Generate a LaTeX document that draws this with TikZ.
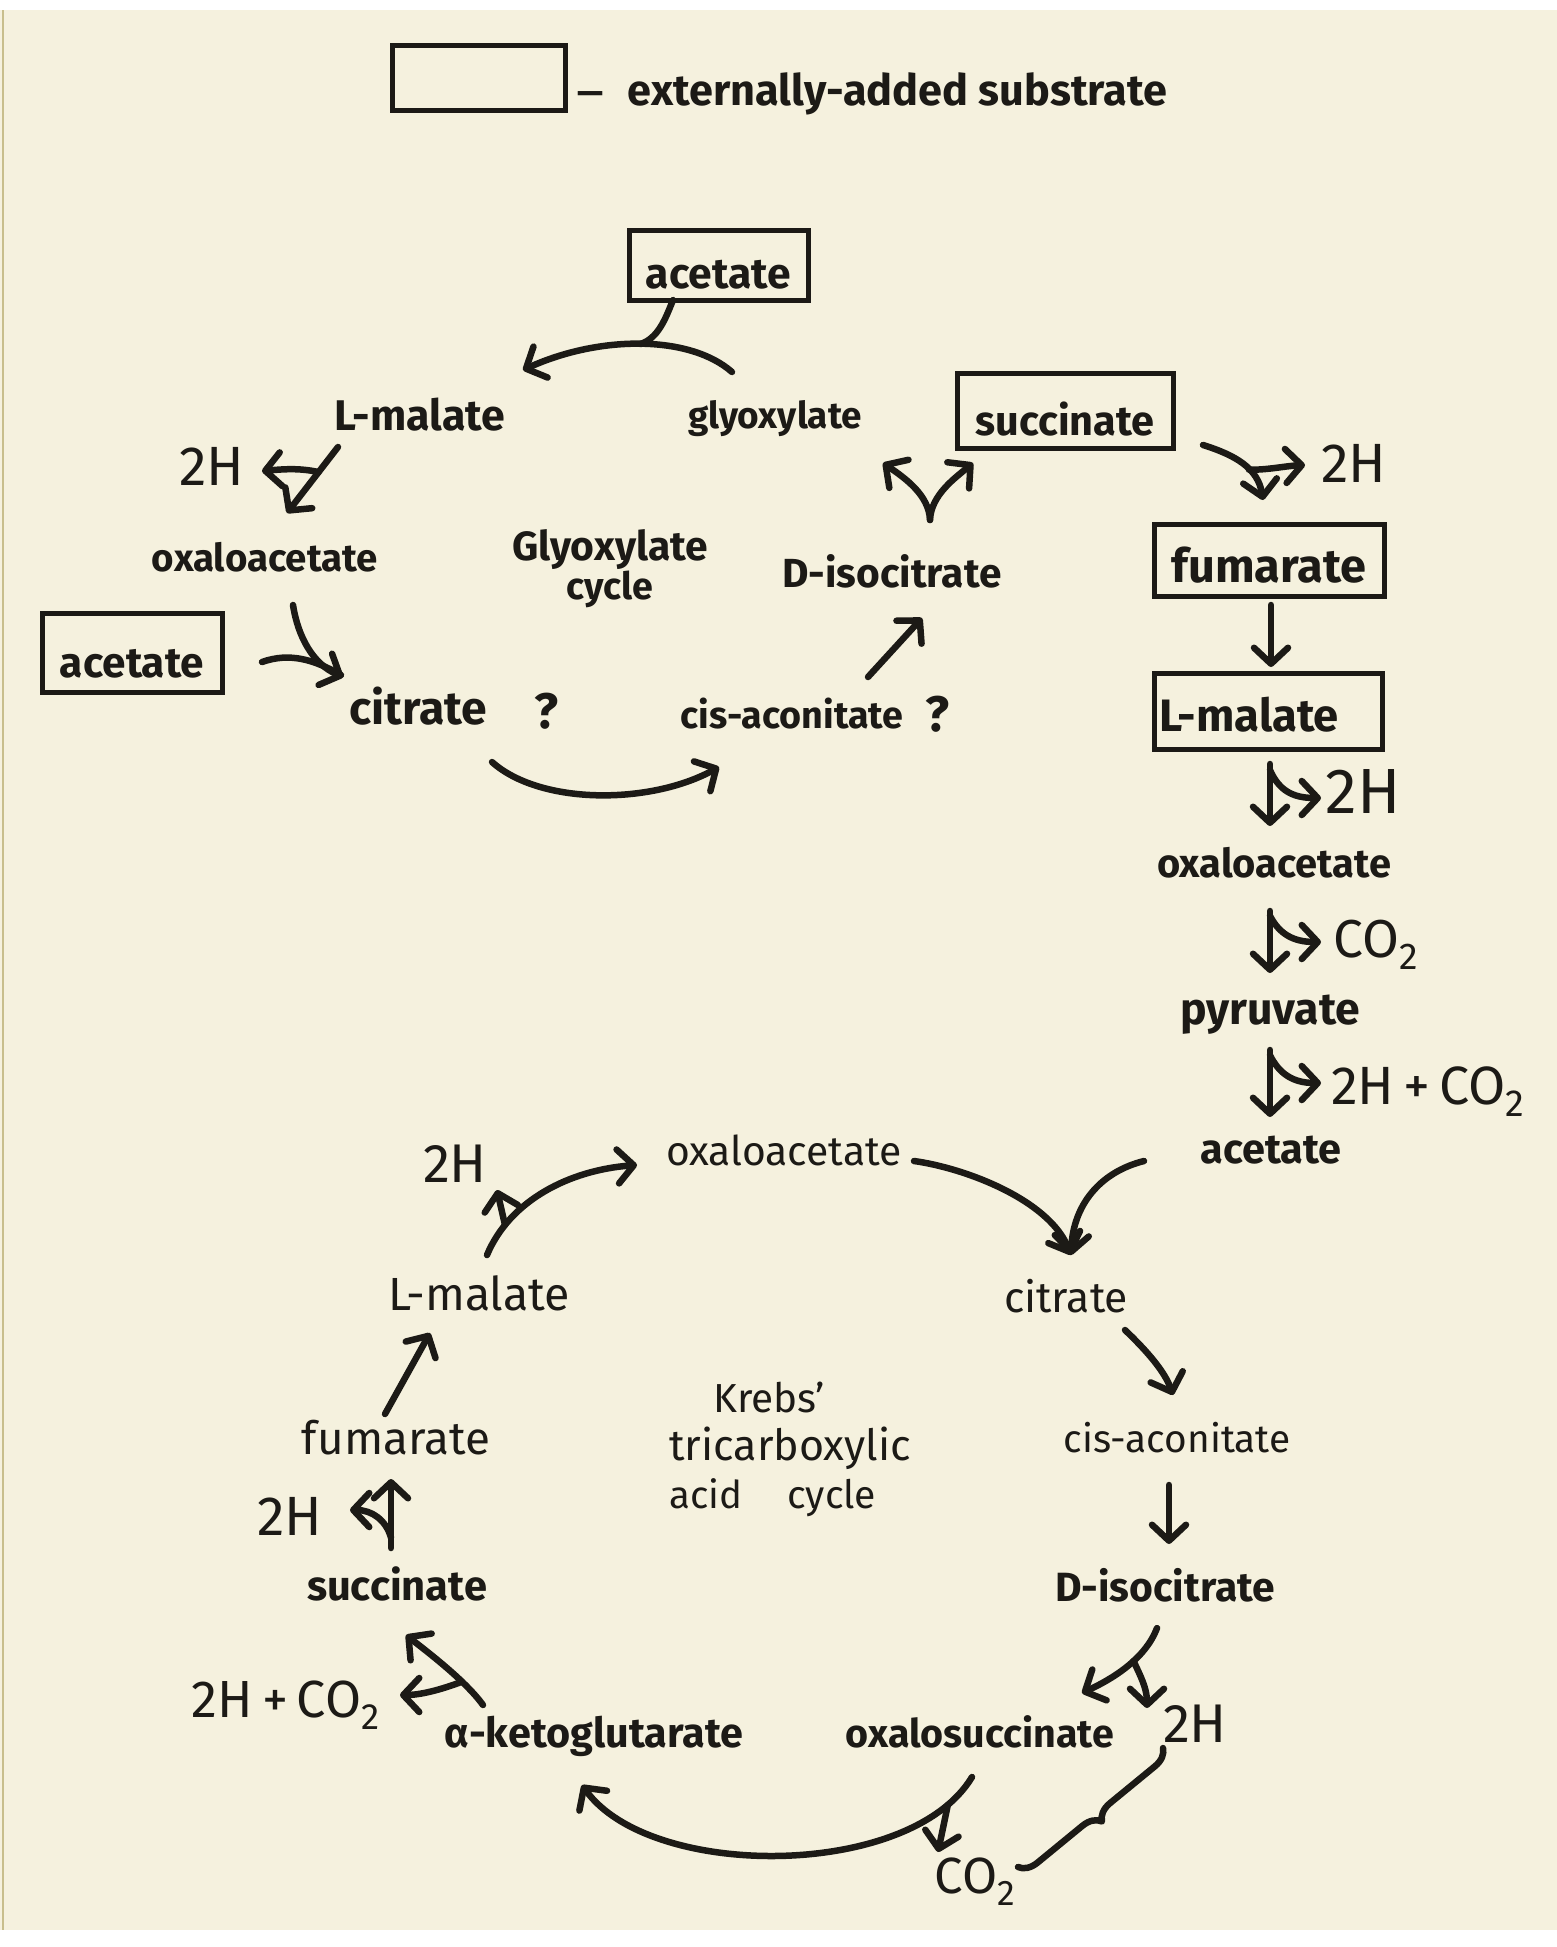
\documentclass[tikz,border=0pt]{standalone}
\usepackage{fontspec}
\setmainfont{Fira Sans}
\usepackage{graphicx}
\usetikzlibrary{arrows.meta,decorations.pathreplacing}
\definecolor{paper}{RGB}{245,241,222}
\definecolor{edge}{RGB}{200,190,140}
\definecolor{ink}{RGB}{28,26,22}
\newcommand{\T}[2]{\resizebox{#1pt}{!}{#2}}
\begin{document}
\begin{tikzpicture}[x=1pt,y=-1pt,
  lab/.style={inner sep=0pt, anchor=base, text=ink, font=\fontsize{36}{40}\selectfont\bfseries},
  thin/.style={lab, font=\fontsize{36}{40}\selectfont},
  subbox/.style={draw=ink, line width=5pt, rectangle, inner sep=0pt, text=ink, font=\fontsize{36}{40}\selectfont\bfseries, text depth=0pt},
  arr/.style={draw=ink, line width=6.5pt, line cap=round, line join=round, -{Straight Barb[length=16pt,width=34pt,round]}},
  ln/.style={draw=ink, line width=6.5pt, line cap=round, line join=round},
]
\fill[white] (0,0) rectangle (1557,1947);
\fill[paper] (0,10) rectangle (1557,1930);
\draw[edge, line width=1.5pt] (3,10) -- (3,1930);
\useasboundingbox (0,0) rectangle (1557,1947);

% legend
\node[subbox, minimum width=173pt, minimum height=65pt] (legbox) at (478.5,77.5) {};
\node[lab] (legtxt) at (872,105) {\raisebox{-5pt}{\T{28}{\mdseries –}}\hspace*{23pt}\T{539}{externally-added substrate}};

% glyoxylate cycle
\node[subbox, minimum width=179pt, minimum height=70pt, text height=46pt] (accA) at (718.5,265) {\T{145}{acetate}};
\node[lab] (malT) at (420,430) {\T{170}{L-malate}};
\node[lab] (glyT) at (775,428) {\T{174}{glyoxylate}};
\node[subbox, minimum width=216pt, minimum height=75pt, text height=49pt] (sucA) at (1065,410.5) {\T{179}{succinate}};
\node[thin] (hA) at (212,485) {\T{65}{2H}};
\node[lab] (oxaT) at (265,571) {\T{226}{oxaloacetate}};
\node[lab, align=center, font=\fontsize{36}{36}\selectfont\bfseries] (glyc) at (610,599) {\T{196}{Glyoxylate}\\\T{87}{cycle}};
\node[lab] (disoT) at (892,587) {\T{219}{D-isocitrate}};
\node[thin] (hB) at (1354,482) {\T{65}{2H}};
\node[subbox, minimum width=230pt, minimum height=72pt, text height=44pt] (fumA) at (1269,560) {\T{195}{fumarate}};
\node[subbox, minimum width=180pt, minimum height=79pt, text height=50pt] (accL) at (132,652.5) {\T{144}{acetate}};
\node[lab] (citT) at (418,724) {\T{138}{citrate}};
\node[lab] (q1) at (546,728) {\T{24}{?}};
\node[lab] (cisT) at (792,728) {\T{223}{cis-aconitate}};
\node[lab] (q2) at (937,731) {\T{24}{?}};

% right column
\node[subbox, minimum width=228pt, minimum height=76pt, text height=40pt] (malA) at (1268,711) {\T{180}{L-malate}\hspace*{38pt}};
\node[thin] (hC) at (1363,813) {\T{75}{2H}};
\node[lab] (oxaR) at (1274,877) {\T{234}{oxaloacetate}};
\node[thin] (co2A) at (1376,957) {\T{85}{CO\textsubscript{2}}};
\node[lab] (pyrT) at (1270,1024) {\T{180}{pyruvate}};
\node[thin] (hcoA) at (1428,1104) {\T{194}{2H\,+\,CO\textsubscript{2}}};
\node[lab] (accR) at (1271,1163) {\T{141}{acetate}};

% Krebs cycle
\node[thin] (hD) at (455,1182) {\T{64}{2H}};
\node[thin] (oxaK) at (784,1165) {\T{236}{oxaloacetate}};
\node[thin] (malK) at (479,1310) {\T{182}{L-malate}};
\node[thin] (citK) at (1066,1312) {\T{124}{citrate}};
\node[thin, anchor=base west, align=left, font=\fontsize{36}{48}\selectfont] (krebs) at (669,1508) {\hspace*{44pt}\T{112}{Krebs'}\\\T{242}{tricarboxylic}\\\T{73}{acid}\hspace*{45pt}\T{89}{cycle}};
\node[thin] (cisK) at (1177,1452) {\T{227}{cis-aconitate}};
\node[lab] (disoK) at (1165,1601) {\T{220}{D-isocitrate}};
\node[thin] (fumK) at (396,1454) {\T{188}{fumarate}};
\node[thin] (hE) at (290,1535) {\T{65}{2H}};
\node[lab] (sucK) at (397,1600) {\T{180}{succinate}};
\node[thin] (hcoK) at (286,1717) {\T{188}{2H\,+\,CO\textsubscript{2}}};
\node[lab] (akgK) at (594,1747) {\T{298}{α-ketoglutarate}};
\node[lab] (oxsK) at (980,1747) {\T{268}{oxalosuccinate}};
\node[thin] (hF) at (1195,1742) {\T{64}{2H}};
\node[thin] (co2K) at (975,1893) {\T{81}{CO\textsubscript{2}}};

% ---- connectors, glyoxylate cycle
\draw[arr] ([shift={(-43,-56)}]glyT.base) .. controls (690,335) and (600,335) .. ([shift={(103,-60)}]malT.base) node[pos=0.5,coordinate](j1){};
\draw[ln] ([shift={(-45.5,35)}]accA.center) .. controls (665,320) and (658,338) .. (j1);
\draw[arr] ([shift={(-82,17)}]malT.base) -- ([shift={(22,-58)}]oxaT.base) node[pos=0.38,coordinate](j2){};
\draw[arr] (j2) .. controls (300,468) and (285,469) .. ([shift={(50,-14)}]hA.base);
\draw[arr] ([shift={(28,34)}]oxaT.base) .. controls (298,637) and (313,664) .. ([shift={(-75,-47)}]citT.base);
\draw[ln] ([shift={(130,9.5)}]accL.center) .. controls (290,652) and (315,660) .. ([shift={(-77,-49)}]citT.base);
\draw[arr] ([shift={(74,38)}]citT.base) .. controls (540,805) and (650,805) .. ([shift={(-73,39)}]cisT.base);
\draw[arr] ([shift={(76,-51)}]cisT.base) -- ([shift={(30,31)}]disoT.base);
\draw[arr] ([shift={(38,-67)}]disoT.base) .. controls (929,495) and (905,478) .. ([shift={(108,35)}]glyT.base);
\draw[arr] ([shift={(38,-67)}]disoT.base) .. controls (931,495) and (955,478) .. ([shift={(-92,52.5)}]sucA.center);

% ---- right column
\draw[arr] ([shift={(138,34.5)}]sucA.center) .. controls (1235,455) and (1258,468) .. ([shift={(-6,-60)}]fumA.center) node[pos=0.6,coordinate](j7){};
\draw[arr] (j7) .. controls (1268,470) and (1285,466) .. ([shift={(-49,-17)}]hB.base);
\draw[arr] ([shift={(2,45)}]fumA.center) -- ([shift={(3,-44)}]malA.center);
\draw[arr] ([shift={(2,53)}]malA.center) -- ([shift={(-4,-51)}]oxaR.base) node[pos=0.1,coordinate](j9){};
\draw[arr] (j9) .. controls (1279,790) and (1292,798) .. ([shift={(-42,-15)}]hC.base);
\draw[arr] ([shift={(-4,34)}]oxaR.base) -- ([shift={(0,-51)}]pyrT.base) node[pos=0.08,coordinate](j10){};
\draw[arr] (j10) .. controls (1279,933) and (1292,942) .. ([shift={(-55,-15)}]co2A.base);
\draw[arr] ([shift={(0,26)}]pyrT.base) -- ([shift={(-1,-46)}]accR.base) node[pos=0.08,coordinate](j11){};
\draw[arr] (j11) .. controls (1279,1073) and (1292,1083) .. ([shift={(-107,-21)}]hcoA.base);

% ---- Krebs cycle
\draw[arr] ([shift={(-127,-2)}]accR.base) .. controls (1100,1172) and (1073,1205) .. ([shift={(5,-57)}]citK.base);
\draw[arr] ([shift={(130,-4)}]oxaK.base) .. controls (965,1168) and (1050,1200) .. ([shift={(5,-57)}]citK.base);
\draw[arr] ([shift={(8,-55)}]malK.base) .. controls (510,1200) and (570,1170) .. ([shift={(-147,0)}]oxaK.base) node[pos=0.2,coordinate](j14){};
\draw[arr] (j14) -- ([shift={(42,8)}]hD.base);
\draw[arr] ([shift={(59,18)}]citK.base) .. controls (1148,1352) and (1165,1372) .. ([shift={(-4,-57)}]cisK.base);
\draw[arr] ([shift={(-8,33)}]cisK.base) -- ([shift={(4,-57)}]disoK.base);
\draw[arr] ([shift={(-8,27)}]disoK.base) .. controls (1145,1660) and (1110,1680) .. ([shift={(102,-54)}]oxsK.base) node[pos=0.4,coordinate](j17){};
\draw[arr] (j17) .. controls (1140,1675) and (1147,1688) .. ([shift={(-48,-34)}]hF.base);
\draw[arr] ([shift={(-8,30)}]oxsK.base) .. controls (910,1880) and (650,1880) .. ([shift={(-12,38)}]akgK.base) node[pos=0.1,coordinate](j18){};
\draw[arr] (j18) -- ([shift={(-37,-41)}]co2K.base);
\draw[ln, decorate, decoration={brace, amplitude=18pt}] ([shift={(-32,6)}]hF.base) -- ([shift={(43,-26)}]co2K.base);
\draw[arr] ([shift={(-11,-40)}]fumK.base) -- ([shift={(-49,23)}]malK.base);
\draw[arr] ([shift={(-6,-52)}]sucK.base) -- ([shift={(-5,25)}]fumK.base) node[pos=0.15,coordinate](j21){};
\draw[arr] (j21) .. controls (386,1520) and (372,1510) .. ([shift={(60,-25)}]hE.base);
\draw[arr] ([shift={(-111,-42)}]akgK.base) .. controls (465,1680) and (425,1650) .. ([shift={(9,35)}]sucK.base) node[pos=0.3,coordinate](j22){};
\draw[arr] (j22) .. controls (440,1690) and (420,1695) .. ([shift={(114,-22)}]hcoK.base);
\end{tikzpicture}
\end{document}
